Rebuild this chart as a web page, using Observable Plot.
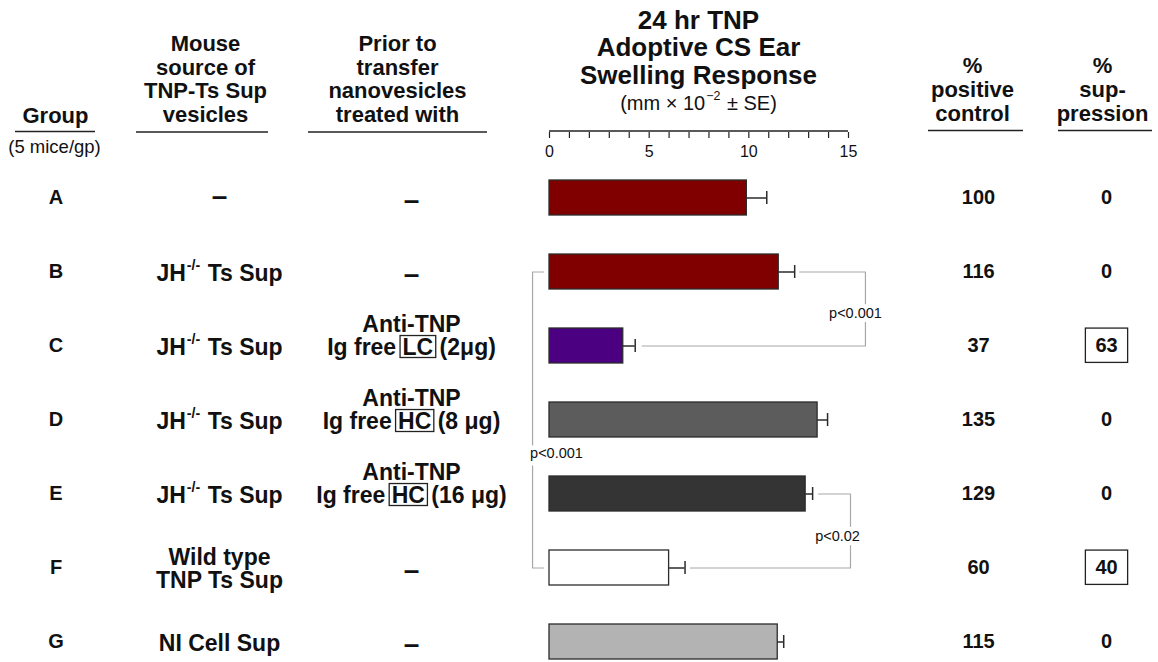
<!DOCTYPE html>
<html><head><meta charset="utf-8">
<script src="https://cdn.jsdelivr.net/npm/d3@7"></script>
<script src="https://cdn.jsdelivr.net/npm/@observablehq/plot@0.6"></script>
<style>
html,body{margin:0;padding:0;background:#fff;}
#chart{width:1158px;height:662px;}
svg{display:block;}
</style></head><body><div id="chart"></div>
<script>
// ---------- data ----------
const groups = ["A", "B", "C", "D", "E", "F", "G"];
const mouseSource = ["–", "JH^{-/-} Ts Sup", "JH^{-/-} Ts Sup", "JH^{-/-} Ts Sup", "JH^{-/-} Ts Sup", "Wild type\nTNP Ts Sup", "NI Cell Sup"];
const treatmentAgent = ["", "", "Anti-TNP", "Anti-TNP", "Anti-TNP", "", ""];
const treatmentDetail = ["–", "–", "Ig free [LC] (2μg)", "Ig free [HC] (8 μg)", "Ig free [HC] (16 μg)", "–", "–"];
const swelling = [9.9, 11.5, 3.7, 13.45, 12.85, 6.0, 11.45];
const swellingSE = [1.0, 0.8, 0.6, 0.5, 0.35, 0.8, 0.3];
const pctPositiveControl = [100, 116, 37, 135, 129, 60, 115];
const pctSuppression = [0, 0, 63, 0, 0, 40, 0];
const significantSuppression = [false, false, true, false, false, true, false];
const barColors = ["#800000", "#800000", "#4b0082", "#5c5c5c", "#343434", "#ffffff", "#b3b3b3"];
const axisTicks = d3.range(0, 16);
const axisLabels = [0, 5, 10, 15];
const comparisons = [
  {from: "B", to: "C", label: "p<0.001"},
  {from: "B", to: "F", label: "p<0.001"},
  {from: "E", to: "F", label: "p<0.02"}
];
const headerGroup = "Group";
const headerGroupNote = "(5 mice/gp)";
const headerSource = "Mouse\nsource of\nTNP-Ts Sup\nvesicles";
const headerTreatment = "Prior to\ntransfer\nnanovesicles\ntreated with";
const titleText = "24 hr TNP\nAdoptive CS Ear\nSwelling Response";
const subtitleText = "(mm × 10^{−2} ± SE)";
const headerPositive = "%\npositive\ncontrol";
const headerSuppression = "%\nsup-\npression";

// ---------- layout / style ----------
const W = 1158, H = 662, ML = 549, MR = 310, MT = 131;
const col = {group: 55.5, source: 219, treat: 411, pct: 978, sup: 1106};
const fam = '"Liberation Sans", Arial, Helvetica, sans-serif';
const bracketLayout = [
  {xFrom: 12.55, xOut: 15.85, xTo: 4.65, labelX: 15.35, labelRow: "B", labelDy: 41},
  {xFrom: -0.3, xOut: -0.85, xTo: -0.3, labelX: 0.35, labelRow: "D", labelDy: 33},
  {xFrom: 13.5, xOut: 15.1, xTo: 7.07, labelX: 14.45, labelRow: "E", labelDy: 42}
];

const rows = groups.map((g, i) => ({
  group: g, source: mouseSource[i], agent: treatmentAgent[i], detail: treatmentDetail[i],
  value: swelling[i], se: swellingSE[i], pct: pctPositiveControl[i], sup: pctSuppression[i],
  boxed: significantSuppression[i], color: barColors[i]
}));

const bracketPts = [];
const bracketLabels = [];
comparisons.forEach((c, k) => {
  const L = bracketLayout[k];
  bracketPts.push({id: k, x: L.xFrom, y: c.from}, {id: k, x: L.xOut, y: c.from},
                  {id: k, x: L.xOut, y: c.to}, {id: k, x: L.xTo, y: c.to});
  bracketLabels.push({label: c.label, x: L.labelX, y: L.labelRow, dy: L.labelDy});
});

function colText(data, key, opts) {
  return Plot.text(data, {y: "group", frameAnchor: "left", dx: col[key] - ML, textAnchor: "middle",
    fontFamily: fam, fontWeight: "bold", fill: "#111", ...opts});
}
function header(str, cx, baseY, size, lh, weight = "bold") {
  return Plot.text([str], {text: d => d, frameAnchor: "top-left", dx: cx - ML, dy: baseY - MT,
    lineAnchor: "bottom", lineHeight: lh, textAnchor: "middle", fontSize: size,
    fontWeight: weight, fontFamily: fam, fill: "#111"});
}
const isDash = d => d === "–";

const marks = [
  // brackets
  Plot.line(bracketPts, {x: "x", y: "y", z: "id", stroke: "#a8a8a8", strokeWidth: 1.2}),
  ...bracketLabels.map(b => Plot.text([b], {x: "x", y: "y", dy: b.dy, text: "label", fontSize: 14.5,
      fontFamily: fam, fill: "#111", stroke: "white", strokeWidth: 9})),
  // bars and errors
  Plot.barX(rows, {x: "value", y: "group", fill: "color", stroke: "#2b2b2b", strokeWidth: 1.3}),
  Plot.ruleY(rows, {y: "group", x1: "value", x2: d => d.value + d.se, stroke: "#2b2b2b", strokeWidth: 1.5}),
  Plot.tickX(rows, {x: d => d.value + d.se, y: "group", insetTop: 11, insetBottom: 11, stroke: "#2b2b2b", strokeWidth: 1.5}),
  // axis
  Plot.axisX({anchor: "top", ticks: axisTicks, tickSize: -6, tickFormat: () => "", stroke: "#222", strokeWidth: 1.2}),
  Plot.text(axisLabels, {x: d => d, frameAnchor: "top", dy: 14, text: d => String(d), fontSize: 16, fontFamily: fam, fill: "#111"}),
  // table columns
  colText(rows, "group", {text: "group", fontSize: 20}),
  colText(rows.filter(d => !isDash(d.source)), "source", {text: "source", fontSize: 23, lineHeight: 1.02, dy: 1}),
  colText(rows.filter(d => isDash(d.source)), "source", {text: "source", fontSize: 28, dy: -2}),
  colText(rows.filter(d => !isDash(d.detail)), "treat", {text: d => d.agent ? d.agent + "\n" + d.detail : d.detail,
    fontSize: 23, lineAnchor: "bottom", lineHeight: 1.02, dy: 9}),
  colText(rows.filter(d => isDash(d.detail)), "treat", {text: "detail", fontSize: 28, dy: 2}),
  colText(rows, "pct", {text: d => String(d.pct), fontSize: 20}),
  colText(rows, "sup", {text: d => d.boxed ? `[${d.sup}]` : String(d.sup), fontSize: 20}),
  // headers
  header(headerGroup, 55, 122, 22, 1.08),
  header(headerGroupNote, 54, 152.5, 18.5, 1, "normal"),
  header(headerSource, 205, 121.7, 22, 1.08),
  header(headerTreatment, 397, 121.7, 22, 1.08),
  header(titleText, 698, 83, 26, 1.05),
  header(subtitleText, 698, 109, 20, 1, "normal"),
  header(headerPositive, 972, 120, 22, 1.08),
  header(headerSuppression, 1102, 120, 22, 1.08)
];

const chart = Plot.plot({
  width: W, height: H,
  marginLeft: ML, marginRight: MR, marginTop: MT, marginBottom: 0,
  x: {domain: [0, 15], axis: null, label: null},
  y: {domain: groups, range: [158.8, 679.4], paddingInner: 0.529, paddingOuter: 0.2645, axis: null, label: null},
  color: {type: "identity"},
  style: {fontFamily: fam, background: "white", overflow: "visible"},
  marks
});
document.getElementById("chart").appendChild(chart);

// ---------- post-processing: superscripts, boxes, axis line, header rules ----------
const svgns = "http://www.w3.org/2000/svg";
function richText(svg) {
  const leaves = [];
  svg.querySelectorAll("text").forEach(t => {
    const ts = t.querySelectorAll("tspan");
    if (ts.length) ts.forEach(s => leaves.push(s)); else leaves.push(t);
  });
  for (const el of leaves) {
    const s = el.textContent;
    if (!/\^\{|\[/.test(s)) continue;
    el.textContent = "";
    const re = /\^\{([^}]*)\}|\[([^\]]*)\]|([^\^\[]+)/g;
    let m, lift = 0;
    while ((m = re.exec(s))) {
      const sp = document.createElementNS(svgns, "tspan");
      if (m[1] != null) {
        sp.textContent = m[1];
        sp.setAttribute("font-size", "62%");
        sp.setAttribute("dy", "-0.75em");
        sp.setAttribute("dx", "1");
        lift = 0.75 * 0.62;
      } else {
        sp.textContent = m[2] != null ? m[2] : m[3];
        if (lift) { sp.setAttribute("dy", lift + "em"); sp.setAttribute("dx", "1"); lift = 0; }
        if (m[2] != null) sp.setAttribute("data-box", "1");
      }
      el.appendChild(sp);
    }
  }
  svg.querySelectorAll("tspan[data-box]").forEach(sp => {
    const text = sp.closest("text");
    const fs = parseFloat(getComputedStyle(sp).fontSize);
    const n = sp.getNumberOfChars();
    const p0 = sp.getStartPositionOfChar(0);
    const p1 = sp.getEndPositionOfChar(n - 1);
    const digits = /^\d+$/.test(sp.textContent);
    const padX = digits ? 10 : 2.5, padTop = digits ? 10 : 3, padBot = digits ? 10 : 2.5;
    const cap = 0.716 * fs;
    const r = document.createElementNS(svgns, "rect");
    r.setAttribute("x", p0.x - padX);
    r.setAttribute("y", p0.y - cap - padTop);
    r.setAttribute("width", p1.x - p0.x + 2 * padX);
    r.setAttribute("height", cap + padTop + padBot);
    r.setAttribute("fill", "none");
    r.setAttribute("stroke", "#222");
    r.setAttribute("stroke-width", 1.3);
    if (text.getAttribute("transform")) r.setAttribute("transform", text.getAttribute("transform"));
    text.parentNode.insertBefore(r, text);
  });
}
richText(chart);

const svg = d3.select(chart);
svg.selectAll('g[stroke="white"]').attr("paint-order", "stroke");
const xs = chart.scale("x");
svg.append("line")
  .attr("x1", xs.apply(0)).attr("x2", xs.apply(15))
  .attr("y1", MT).attr("y2", MT)
  .attr("stroke", "#222").attr("stroke-width", 1.3);
const headerRules = [[15, 95, 131.5], [136, 268, 132], [308, 487, 132], [928, 1023, 130.5], [1058, 1152, 130.5]];
svg.append("g").selectAll("line").data(headerRules).join("line")
  .attr("x1", d => d[0]).attr("x2", d => d[1]).attr("y1", d => d[2]).attr("y2", d => d[2])
  .attr("stroke", "#222").attr("stroke-width", 1.6);
</script>
</body></html>
